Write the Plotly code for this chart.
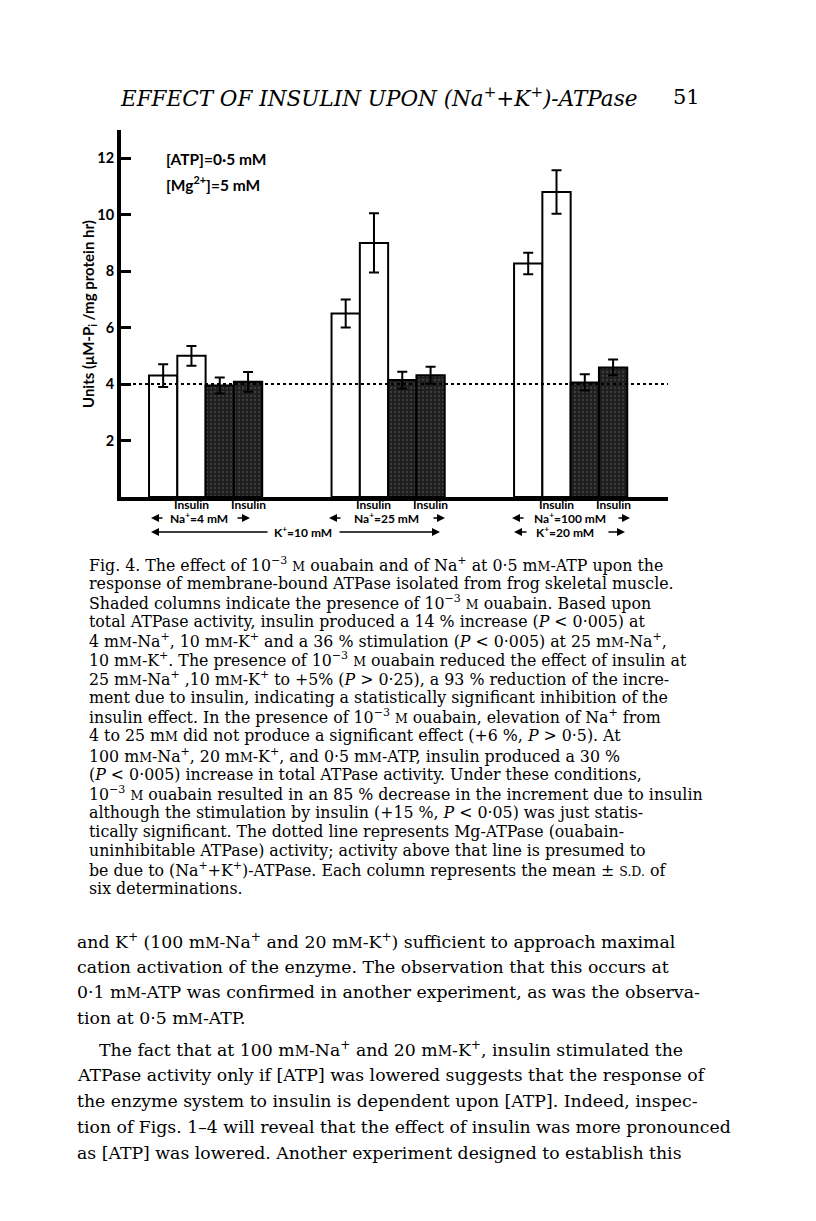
import plotly.graph_objects as go

# ---- data ----
conditions = ["Na+ 4 mM / K+ 10 mM", "Na+ 25 mM / K+ 10 mM", "Na+ 100 mM / K+ 20 mM"]
control = [4.3, 6.5, 8.27]
control_sd = [0.4, 0.5, 0.38]
insulin = [5.0, 9.0, 10.8]
insulin_sd = [0.35, 1.05, 0.77]
ouabain = [3.95, 4.14, 4.06]
ouabain_sd = [0.28, 0.3, 0.29]
ouabain_insulin = [4.08, 4.31, 4.59]
ouabain_insulin_sd = [0.35, 0.3, 0.28]
mg_atpase = 4.0
y_ticks = [2, 4, 6, 8, 10, 12]

# ---- page geometry (page pixels; the html body adds an 8px margin) ----
PAGE_W, PAGE_H, PAD = 816, 1221, 8
L, R, T, B = 121, 668, 130, 497
GROUP_STEP = 6.45


def xpos(i):
    return [g * GROUP_STEP + i + 0.5 for g in range(len(conditions))]


def fx(px):
    return (px - L) / (R - L)


def fy(py):
    return (B - py) / (B - T)


SANS = "Lato"
SERIF = "DejaVu Serif"

fig = go.Figure()

open_style = dict(color="white", line=dict(color="black", width=2))
shaded_style = dict(color="#232323", line=dict(color="black", width=2),
                    pattern=dict(shape=".", fgcolor="#5e5e5e", bgcolor="#1e1e1e",
                                 size=4, solidity=0.25))

series = [
    ("Control", control, control_sd, open_style),
    ("Insulin", insulin, insulin_sd, open_style),
    ("Ouabain", ouabain, ouabain_sd, shaded_style),
    ("Ouabain + insulin", ouabain_insulin, ouabain_insulin_sd, shaded_style),
]
for i, (name, vals, sd, style) in enumerate(series):
    fig.add_trace(go.Bar(
        x=xpos(i), y=vals, width=1, name=name, marker=style,
        error_y=dict(type="data", array=sd, color="black", thickness=2, width=5),
        showlegend=False,
    ))

# Mg-ATPase dotted line
fig.add_shape(type="line", xref="paper", x0=0, x1=1, y0=mg_atpase, y1=mg_atpase,
              line=dict(color="black", width=2, dash="dot"), layer="above")

ann = []


def text(px, py, s, size, family=SERIF, anchor="left", **kw):
    ann.append(dict(x=fx(px), y=fy(py), xref="paper", yref="paper", text=s,
                    showarrow=False, xanchor=anchor, yanchor="middle",
                    font=dict(family=family, size=size, color="black",
                              weight=kw.pop("weight", "normal")), **kw))


def arrow(head, py, dx):
    ann.append(dict(x=fx(head), y=fy(py), xref="paper", yref="paper", text="",
                    showarrow=True, ax=dx, ay=0, arrowhead=2, arrowsize=1,
                    arrowwidth=1.6, arrowcolor="black"))


# header
text(378, 97, "<i>EFFECT OF INSULIN UPON (Na<sup>+</sup>+K<sup>+</sup>)-ATPase</i>", 21.5,
     anchor="center")
text(686, 97, "51", 21, anchor="center")

# in-plot conditions
text(164, 159, "[ATP]=0·5 mM", 15.5, SANS, weight="bold")
text(164, 183, "[Mg<sup>2+</sup>]=5 mM", 15.5, SANS, weight="bold")

# y axis title
ann.append(dict(x=fx(89), y=fy(314), xref="paper", yref="paper", textangle=-90,
                xanchor="center", yanchor="middle",
                text="Units (μM-P<sub>i</sub> /mg protein hr)", showarrow=False,
                font=dict(family=SANS, size=15, color="black", weight="bold")))

# x labels
for xi in xpos(1) + xpos(3):
    ann.append(dict(x=xi, y=fy(504), xref="x", yref="paper", text="Insulin",
                    showarrow=False, yanchor="middle",
                    font=dict(family=SANS, size=12, color="black", weight="bold")))

lab = dict(size=12, family=SANS, anchor="center", weight="bold")
text(199, 518, "Na<sup>+</sup>=4 mM", **lab)
arrow(151, 518, 13)
arrow(250, 518, -14)
text(386, 518, "Na<sup>+</sup>=25 mM", **lab)
arrow(329, 518, 13)
arrow(445, 518, -13)
text(570, 518, "Na<sup>+</sup>=100 mM", **lab)
arrow(512, 518, 13)
arrow(630, 518, -13)
text(303, 532, "K<sup>+</sup>=10 mM", **lab)
arrow(151, 532, 118)
arrow(440, 532, -102)
text(565, 532, "K<sup>+</sup>=20 mM", **lab)
arrow(514, 532, 14)
arrow(625, 532, -18)

# caption
SM = "<span style='font-size:12.5px'>M</span>"
caption = [
    "Fig. 4. The effect of 10<sup>−3</sup> {M} ouabain and of Na<sup>+</sup> at 0·5 m{M}-ATP upon the",
    "response of membrane-bound ATPase isolated from frog skeletal muscle.",
    "Shaded columns indicate the presence of 10<sup>−3</sup> {M} ouabain. Based upon",
    "total ATPase activity, insulin produced a 14 % increase (<i>P</i> &lt; 0·005) at",
    "4 m{M}-Na<sup>+</sup>, 10 m{M}-K<sup>+</sup> and a 36 % stimulation (<i>P</i> &lt; 0·005) at 25 m{M}-Na<sup>+</sup>,",
    "10 m{M}-K<sup>+</sup>. The presence of 10<sup>−3</sup> {M} ouabain reduced the effect of insulin at",
    "25 m{M}-Na<sup>+</sup> ,10 m{M}-K<sup>+</sup> to +5% (<i>P</i> &gt; 0·25), a 93 % reduction of the incre-",
    "ment due to insulin, indicating a statistically significant inhibition of the",
    "insulin effect. In the presence of 10<sup>−3</sup> {M} ouabain, elevation of Na<sup>+</sup> from",
    "4 to 25 m{M} did not produce a significant effect (+6 %, <i>P</i> &gt; 0·5). At",
    "100 m{M}-Na<sup>+</sup>, 20 m{M}-K<sup>+</sup>, and 0·5 m{M}-ATP, insulin produced a 30 %",
    "(<i>P</i> &lt; 0·005) increase in total ATPase activity. Under these conditions,",
    "10<sup>−3</sup> {M} ouabain resulted in an 85 % decrease in the increment due to insulin",
    "although the stimulation by insulin (+15 %, <i>P</i> &lt; 0·05) was just statis-",
    "tically significant. The dotted line represents Mg-ATPase (ouabain-",
    "uninhibitable ATPase) activity; activity above that line is presumed to",
    "be due to (Na<sup>+</sup>+K<sup>+</sup>)-ATPase. Each column represents the mean ± <span style='font-size:12.5px'>S.D.</span> of",
    "six determinations.",
]
for k, line in enumerate(caption):
    text(87, 564 + k * 19.1, line.replace("{M}", SM), 15.8)

BM = "<span style='font-size:14px'>M</span>"
body = [
    (75, "and K<sup>+</sup> (100 m{M}-Na<sup>+</sup> and 20 m{M}-K<sup>+</sup>) sufficient to approach maximal"),
    (75, "cation activation of the enzyme. The observation that this occurs at"),
    (75, "0·1 m{M}-ATP was confirmed in another experiment, as was the observa-"),
    (75, "tion at 0·5 m{M}-ATP."),
    (97, "The fact that at 100 m{M}-Na<sup>+</sup> and 20 m{M}-K<sup>+</sup>, insulin stimulated the"),
    (75, "ATPase activity only if [ATP] was lowered suggests that the response of"),
    (75, "the enzyme system to insulin is dependent upon [ATP]. Indeed, inspec-"),
    (75, "tion of Figs. 1–4 will reveal that the effect of insulin was more pronounced"),
    (75, "as [ATP] was lowered. Another experiment designed to establish this"),
]
body_y = [941, 967, 992, 1018, 1049, 1075, 1101, 1127, 1153]
for (x0, line), y0 in zip(body, body_y):
    text(x0, y0, line.replace("{M}", BM), 17.3)

fig.update_layout(
    width=PAGE_W - 2 * PAD, height=PAGE_H - 2 * PAD,
    margin=dict(l=L - PAD, r=PAGE_W - PAD - R, t=T - PAD, b=PAGE_H - PAD - B),
    paper_bgcolor="white", plot_bgcolor="white", barmode="overlay",
    annotations=ann,
    xaxis=dict(range=[-0.99, 18.34], showline=True, linecolor="black", linewidth=4,
               showticklabels=False, ticks="", showgrid=False, zeroline=False),
    yaxis=dict(range=[0, 13], tickvals=y_ticks, showline=True, linecolor="black",
               linewidth=4, ticks="inside", ticklen=10, tickwidth=3, tickcolor="black",
               showgrid=False, zeroline=False,
               tickfont=dict(family=SANS, size=14.5, color="black", weight="bold")),
)

fig.write_html("out.html")
